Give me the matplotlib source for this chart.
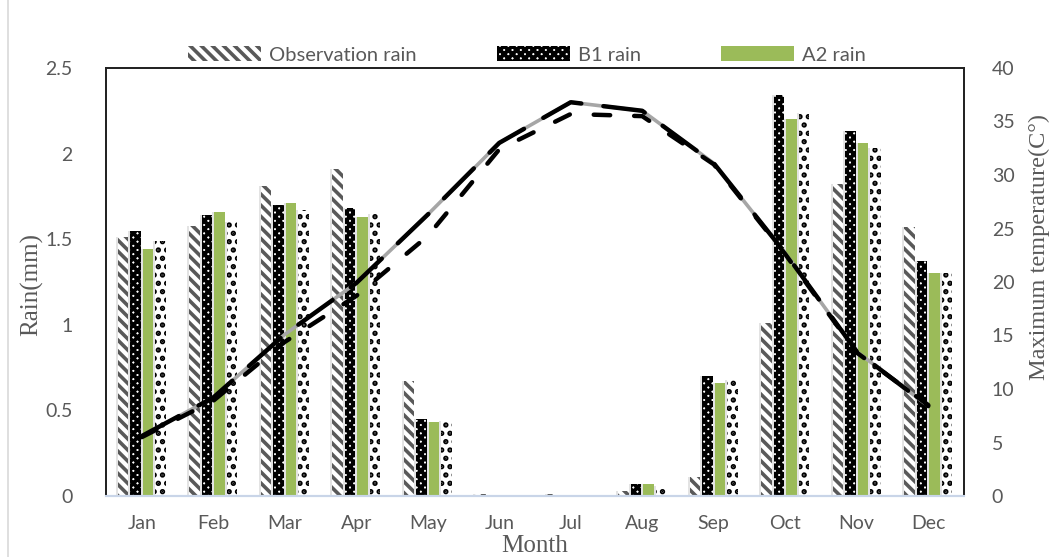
import matplotlib
matplotlib.use("Agg")
import matplotlib.pyplot as plt
import numpy as np
from matplotlib.lines import Line2D

months = ["Jan", "Feb", "Mar", "Apr", "May", "Jun", "Jul", "Aug", "Sep", "Oct", "Nov", "Dec"]
obs_rain = [1.51, 1.58, 1.81, 1.91, 0.67, 0.01, 0.01, 0.03, 0.11, 1.01, 1.82, 1.57]
b1_rain = [1.55, 1.64, 1.70, 1.68, 0.45, 0.005, 0.003, 0.07, 0.70, 2.34, 2.13, 1.37]
a2_rain = [1.44, 1.66, 1.71, 1.63, 0.43, 0.003, 0.002, 0.07, 0.66, 2.20, 2.06, 1.30]
other_rain = [1.49, 1.60, 1.67, 1.65, 0.44, 0.0, 0.0, 0.06, 0.68, 2.24, 2.03, 1.30]
temp_obs = [5.6, 9.2, 15.1, 19.9, 26.3, 33.0, 36.8, 36.0, 31.1, 22.7, 13.5, 8.4]
temp_b1 = [5.6, 9.2, 15.1, 19.9, 26.3, 33.0, 36.8, 36.0, 31.1, 22.7, 13.5, 8.4]
temp_a2 = [5.5, 8.9, 14.4, 18.7, 24.3, 32.4, 35.7, 35.5, 31.0, 22.6, 13.4, 8.5]
rain_ticks = [0, 0.5, 1, 1.5, 2, 2.5]
rain_tick_labels = ["0", "0.5", "1", "1.5", "2", "2.5"]
temp_ticks = [0, 5, 10, 15, 20, 25, 30, 35, 40]

TXT = "#595959"
SANS = ["Lato", "DejaVu Sans"]
SERIF = ["Liberation Serif", "DejaVu Serif"]

fig = plt.figure(figsize=(10.55, 5.57), dpi=100)
ax = fig.add_axes([106/1055, 1-496/557, (964-106)/1055, (496-68)/557])
x = np.arange(len(months))
w = 0.15
step = 0.175

def hbar(xpos, vals, lw_h, **kw):
    with plt.rc_context({"hatch.linewidth": lw_h}):
        bc = ax.bar(xpos, vals, w, linewidth=0, **kw)
    for p in bc:
        if hasattr(p, "set_hatch_linewidth"):
            p.set_hatch_linewidth(lw_h)
    return bc

# soft shadows
for k, vals in enumerate([obs_rain, b1_rain, a2_rain, other_rain]):
    ax.bar(x + (k - 1.5) * step - 0.025, vals, w, color="#c8c8c8", alpha=0.5, linewidth=0, zorder=1)

HLW_OBS, HLW_B1, HLW_OT = 2.6, 2.8, 2.6
b_obs = hbar(x - 1.5 * step, obs_rain, HLW_OBS, facecolor="white", edgecolor="#595959",
             hatch="\\\\\\", label="Observation rain", zorder=2)
b_b1 = hbar(x - 0.5 * step, b1_rain, HLW_B1, facecolor="white", edgecolor="black",
            hatch="xxxx", label="B1 rain", zorder=2)
b_a2 = ax.bar(x + 0.5 * step, a2_rain, w, color="#9bbb59", linewidth=0, label="A2 rain", zorder=2)
b_ot = hbar(x + 1.5 * step, other_rain, HLW_OT, facecolor="white", edgecolor="black",
            hatch="..", zorder=2)

ax.set_xlim(-0.5, 11.5)
ax.set_ylim(0, 2.5)
ax.set_yticks(rain_ticks)
ax.set_yticklabels(rain_tick_labels)
ax.set_xticks(x)
ax.set_xticklabels(months)
ax.tick_params(axis="both", length=0, labelcolor=TXT, labelsize=14)
ax.tick_params(axis="y", pad=24)
ax.tick_params(axis="x", pad=14)
for lab in ax.get_xticklabels() + ax.get_yticklabels():
    lab.set_family(SANS)

ax2 = ax.twinx()
ax2.plot(x, temp_obs, color="#a6a6a6", lw=2.6, solid_capstyle="round", zorder=3)
ax2.plot(x, temp_b1, color="black", lw=3.2, dashes=(9.5, 5.0), dash_capstyle="round", zorder=4)
ax2.plot(x, temp_a2, color="black", lw=3.2, dashes=(3.7, 5.4), dash_capstyle="round", zorder=4)
ax2.set_ylim(0, 40)
ax2.set_yticks(temp_ticks)
ax2.tick_params(axis="y", length=0, labelcolor=TXT, labelsize=14, pad=20)
for lab in ax2.get_yticklabels():
    lab.set_family(SANS)

for a in (ax, ax2):
    for s in ("top", "left", "right"):
        a.spines[s].set_color("#222222")
        a.spines[s].set_linewidth(1.3)
    a.spines["bottom"].set_color("#c9d5e8")
    a.spines["bottom"].set_linewidth(1.5)

fig.text(32/1055, 1-285/557, "Rain(mm)", rotation=90, ha="center", va="center",
         fontsize=18, color=TXT, family=SERIF)
fig.text(1039/1055, 1-247/557, "Maximum temperature(C°)", rotation=90, ha="center", va="center",
         fontsize=17.5, color=TXT, family=SERIF)
fig.text(535/1055, 1-546/557, "Month", ha="center", va="center",
         fontsize=18, color=TXT, family=SERIF)

leg = fig.legend(handles=[b_obs, b_b1, b_a2], loc="center", bbox_to_anchor=(527/1055, 1-55/557),
                 ncol=3, frameon=False, handlelength=3.6, handleheight=0.75, handletextpad=0.4,
                 columnspacing=4.0, prop={"family": SANS, "size": 14.5})
for t in leg.get_texts():
    t.set_color(TXT)
handles = getattr(leg, "legend_handles", None) or getattr(leg, "legendHandles", [])
for hnd, lw_h in zip(handles, [HLW_OBS, HLW_B1, None]):
    hnd.set_linewidth(0)
    if lw_h is not None and hasattr(hnd, "set_hatch_linewidth"):
        hnd.set_hatch_linewidth(lw_h)

fig.add_artist(Line2D([8/1055, 8/1055], [0, 1], transform=fig.transFigure, color="#d9d9d9", lw=1.2))

fig.savefig("out.png", dpi=100)
